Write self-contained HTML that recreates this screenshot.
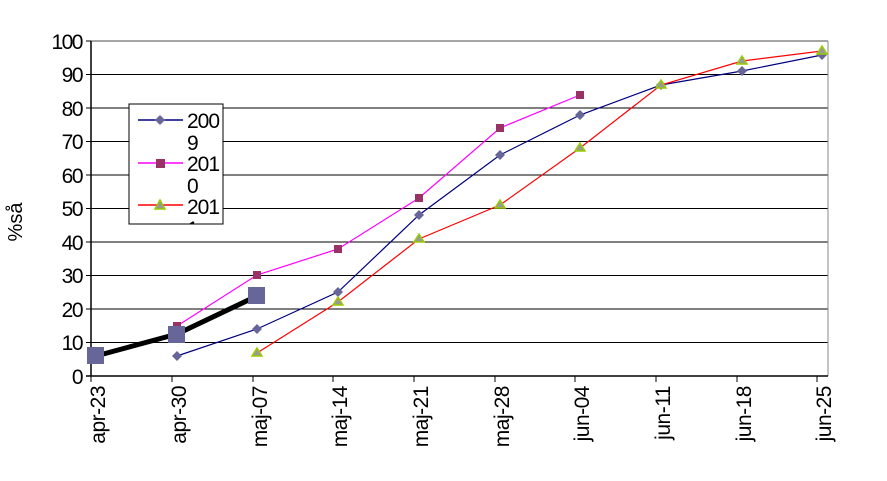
<!DOCTYPE html>
<html><head><meta charset="utf-8"><style>body{margin:0;background:#fff}svg{display:block}text{font-family:"Liberation Sans",sans-serif}</style></head><body>
<svg width="887" height="481" xmlns="http://www.w3.org/2000/svg">
<g stroke="#000" stroke-width="1">
<line x1="91" y1="342.5" x2="828" y2="342.5"/><line x1="91" y1="309" x2="828" y2="309"/><line x1="91" y1="275.5" x2="828" y2="275.5"/><line x1="91" y1="242" x2="828" y2="242"/><line x1="91" y1="208.5" x2="828" y2="208.5"/><line x1="91" y1="175" x2="828" y2="175"/><line x1="91" y1="141.5" x2="828" y2="141.5"/><line x1="91" y1="108" x2="828" y2="108"/><line x1="91" y1="74.5" x2="828" y2="74.5"/>
</g>
<line x1="91" y1="41" x2="828" y2="41" stroke="#888" stroke-width="1.5"/>
<line x1="828" y1="41" x2="828" y2="376" stroke="#888" stroke-width="1"/>
<line x1="91" y1="41" x2="91" y2="376" stroke="#000" stroke-width="1.5"/>
<line x1="86" y1="376" x2="828" y2="376" stroke="#000" stroke-width="1.5"/>
<g stroke="#000"><line x1="86" y1="41" x2="91" y2="41"/><line x1="86" y1="74.5" x2="91" y2="74.5"/><line x1="86" y1="108" x2="91" y2="108"/><line x1="86" y1="141.5" x2="91" y2="141.5"/><line x1="86" y1="175" x2="91" y2="175"/><line x1="86" y1="208.5" x2="91" y2="208.5"/><line x1="86" y1="242" x2="91" y2="242"/><line x1="86" y1="275.5" x2="91" y2="275.5"/><line x1="86" y1="309" x2="91" y2="309"/><line x1="86" y1="342.5" x2="91" y2="342.5"/>
<line x1="91" y1="376" x2="91" y2="382"/><line x1="172" y1="376" x2="172" y2="382"/><line x1="253" y1="376" x2="253" y2="382"/><line x1="333" y1="376" x2="333" y2="382"/><line x1="414" y1="376" x2="414" y2="382"/><line x1="495" y1="376" x2="495" y2="382"/><line x1="575" y1="376" x2="575" y2="382"/><line x1="656" y1="376" x2="656" y2="382"/><line x1="737" y1="376" x2="737" y2="382"/><line x1="817" y1="376" x2="817" y2="382"/></g>
<g font-size="21" text-anchor="end" fill="#000" letter-spacing="-1.5">
<text x="82" y="384">0</text><text x="82" y="350">10</text><text x="82" y="317">20</text><text x="82" y="283">30</text><text x="82" y="250">40</text><text x="82" y="216">50</text><text x="82" y="183">60</text><text x="82" y="149">70</text><text x="82" y="116">80</text><text x="82" y="82">90</text><text x="82" y="49">100</text>
</g>
<text transform="translate(22,222) rotate(-90)" font-size="20" text-anchor="middle">%så</text>
<g font-size="21" text-anchor="end" letter-spacing="-0.5">
<text transform="translate(105,386) rotate(-90)">apr-23</text><text transform="translate(186,386) rotate(-90)">apr-30</text><text transform="translate(267,386) rotate(-90)">maj-07</text><text transform="translate(347,386) rotate(-90)">maj-14</text><text transform="translate(428,386) rotate(-90)">maj-21</text><text transform="translate(509,386) rotate(-90)">maj-28</text><text transform="translate(589,386) rotate(-90)">jun-04</text><text transform="translate(670,386) rotate(-90)">jun-11</text><text transform="translate(751,386) rotate(-90)">jun-18</text><text transform="translate(831,386) rotate(-90)">jun-25</text>
</g>
<polyline fill="none" stroke="#ff00ff" stroke-width="1.2" points="177,326 257,275 338,249 419,198 500,128 580,95"/>
<g fill="#993366"><rect x="173" y="322" width="8" height="8"/><rect x="253" y="271" width="8" height="8"/><rect x="334" y="245" width="8" height="8"/><rect x="415" y="194" width="8" height="8"/><rect x="496" y="124" width="8" height="8"/><rect x="576" y="91" width="8" height="8"/></g>
<polyline fill="none" stroke="#000080" stroke-width="1.2" points="177,356 257,329 338,292 419,215 500,155 580,115 661,85 742,71 822,55"/>
<g fill="#666699"><path d="M177,351l5,5l-5,5l-5,-5z"/><path d="M257,324l5,5l-5,5l-5,-5z"/><path d="M338,287l5,5l-5,5l-5,-5z"/><path d="M419,210l5,5l-5,5l-5,-5z"/><path d="M500,150l5,5l-5,5l-5,-5z"/><path d="M580,110l5,5l-5,5l-5,-5z"/><path d="M661,80l5,5l-5,5l-5,-5z"/><path d="M742,66l5,5l-5,5l-5,-5z"/><path d="M822,50l5,5l-5,5l-5,-5z"/></g>
<polyline fill="none" stroke="#ff0000" stroke-width="1.2" points="257,353 338,302 419,239 500,205 580,148 661,85 742,61 822,51"/>
<g fill="#999999" stroke="#99cc00" stroke-width="1.5"><path d="M257,348l5,8h-10z"/><path d="M338,297l5,8h-10z"/><path d="M419,234l5,8h-10z"/><path d="M500,200l5,8h-10z"/><path d="M580,143l5,8h-10z"/><path d="M661,80l5,8h-10z"/><path d="M742,56l5,8h-10z"/><path d="M822,46l5,8h-10z"/></g>
<polyline fill="none" stroke="#000" stroke-width="5" points="96,356 177,334 257,296"/>
<g fill="#666699"><rect x="87" y="347" width="17" height="17"/><rect x="168" y="326" width="17" height="17"/><rect x="248" y="287" width="17" height="17"/></g>
<clipPath id="lc"><rect x="129" y="104" width="94" height="120"/></clipPath>
<rect x="129" y="104" width="94" height="120" fill="#fff" stroke="#000"/>
<line x1="138" y1="120" x2="183" y2="120" stroke="#000080" stroke-width="1.5"/><path d="M160,115l5,5l-5,5l-5,-5z" fill="#666699"/>
<line x1="138" y1="163" x2="183" y2="163" stroke="#ff00ff" stroke-width="1.5"/><rect x="156" y="159" width="9" height="9" fill="#993366"/>
<line x1="138" y1="205" x2="183" y2="205" stroke="#ff0000" stroke-width="1.5"/><path d="M160,200l5,9h-10z" fill="#999" stroke="#99cc00" stroke-width="1.5"/>
<g font-size="21" letter-spacing="-1" clip-path="url(#lc)"><text x="187" y="128">200</text><text x="187" y="171">201</text><text x="187" y="214">201</text><text x="187" y="150">9</text><text x="187" y="193">0</text><text x="187" y="236">1</text></g>
</svg>
</body></html>
